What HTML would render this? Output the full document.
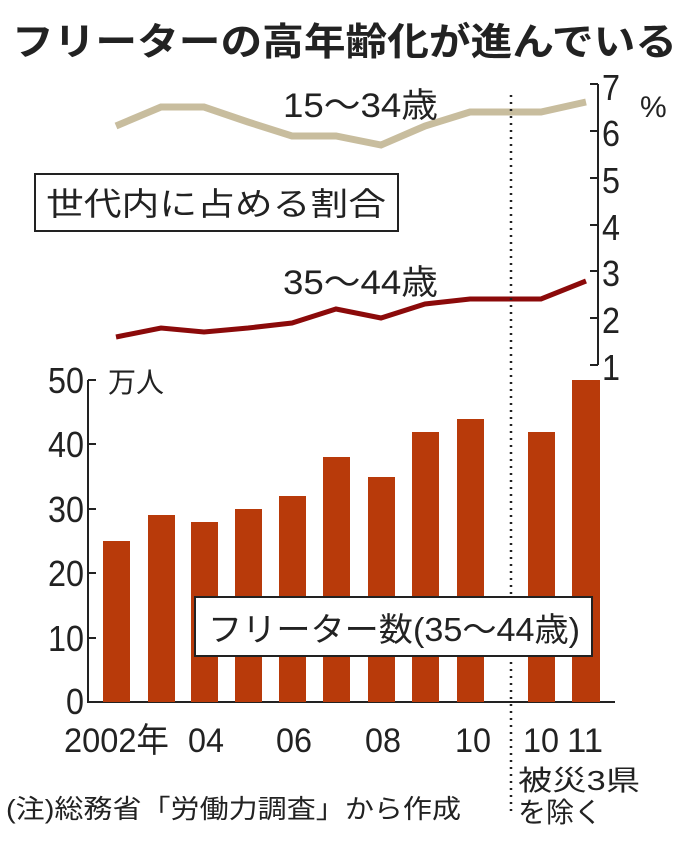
<!DOCTYPE html>
<html><head><meta charset="utf-8"><style>
body{margin:0;background:#fff}
svg text{font-family:"Liberation Sans","Noto Sans CJK JP",sans-serif;fill:#222}
</style></head><body>
<svg width="698" height="836" viewBox="0 0 698 836" xmlns="http://www.w3.org/2000/svg">
<text x="12" y="55" font-size="38" font-weight="bold" textLength="665" lengthAdjust="spacingAndGlyphs">フリーターの高年齢化が進んでいる</text>
<g stroke="#222" stroke-width="2" fill="none">
<path d="M598 84 V365"/>
<path d="M590 84H598M590 131H598M590 178H598M590 225H598M590 271H598M590 318H598M590 365H598"/>
</g>
<g font-size="36">
<text x="602" y="100" textLength="18" lengthAdjust="spacingAndGlyphs">7</text><text x="602" y="146" textLength="18" lengthAdjust="spacingAndGlyphs">6</text><text x="602" y="193" textLength="18" lengthAdjust="spacingAndGlyphs">5</text><text x="602" y="240" textLength="18" lengthAdjust="spacingAndGlyphs">4</text><text x="602" y="286" textLength="18" lengthAdjust="spacingAndGlyphs">3</text><text x="602" y="333" textLength="18" lengthAdjust="spacingAndGlyphs">2</text><text x="602" y="380" textLength="18" lengthAdjust="spacingAndGlyphs">1</text>
</g>
<text x="640" y="117" font-size="30">%</text>
<polyline fill="none" stroke="#c8bd9e" stroke-width="7" points="116,126 161,107 204,107 248,122 292,136 336,136 381,145 425,126 470,112 541,112 586,102"/>
<polyline fill="none" stroke="#8b0a0a" stroke-width="5" points="116,337 161,328 204,332 248,328 292,323 336,309 381,318 425,304 470,299 541,299 586,281"/>
<text x="283" y="117" font-size="34" textLength="155" lengthAdjust="spacingAndGlyphs">15～34歳</text>
<text x="283" y="294" font-size="34" textLength="155" lengthAdjust="spacingAndGlyphs">35～44歳</text>
<rect x="35" y="174" width="363" height="57" fill="#fff" stroke="#222" stroke-width="2"/>
<text x="46" y="215" font-size="32" textLength="340" lengthAdjust="spacingAndGlyphs">世代内に占める割合</text>
<g stroke="#222" stroke-width="2" fill="none">
<path d="M88 380 V702 H615"/>
<path d="M88 380H96M88 444H96M88 509H96M88 573H96M88 638H96"/>
</g>
<g font-size="36" text-anchor="end">
<text x="84" y="393" textLength="36" lengthAdjust="spacingAndGlyphs">50</text><text x="84" y="457" textLength="36" lengthAdjust="spacingAndGlyphs">40</text><text x="84" y="522" textLength="36" lengthAdjust="spacingAndGlyphs">30</text><text x="84" y="586" textLength="36" lengthAdjust="spacingAndGlyphs">20</text><text x="84" y="651" textLength="36" lengthAdjust="spacingAndGlyphs">10</text><text x="84" y="714" textLength="18" lengthAdjust="spacingAndGlyphs">0</text>
</g>
<text x="108" y="392" font-size="28">万人</text>
<g fill="#b83a0a">
<rect x="103" y="541" width="27" height="161"/>
<rect x="148" y="515" width="27" height="187"/>
<rect x="191" y="522" width="27" height="180"/>
<rect x="235" y="509" width="27" height="193"/>
<rect x="279" y="496" width="27" height="206"/>
<rect x="323" y="457" width="27" height="245"/>
<rect x="368" y="477" width="27" height="225"/>
<rect x="412" y="432" width="27" height="270"/>
<rect x="457" y="419" width="27" height="283"/>
<rect x="528" y="432" width="27" height="270"/>
<rect x="572" y="380" width="28" height="322"/>
</g>
<line x1="511" y1="95" x2="511" y2="812" stroke="#222" stroke-width="2.5" stroke-dasharray="2,5"/>
<rect x="195" y="597" width="397" height="59" fill="#fff" stroke="#222" stroke-width="2"/>
<text x="208" y="641" font-size="33" textLength="372" lengthAdjust="spacingAndGlyphs">フリーター数(35～44歳)</text>
<g font-size="34">
<text x="64" y="752" textLength="105" lengthAdjust="spacingAndGlyphs">2002年</text><text x="188" y="752" textLength="36" lengthAdjust="spacingAndGlyphs">04</text><text x="276" y="752" textLength="36" lengthAdjust="spacingAndGlyphs">06</text><text x="365" y="752" textLength="36" lengthAdjust="spacingAndGlyphs">08</text><text x="455" y="752" textLength="36" lengthAdjust="spacingAndGlyphs">10</text><text x="523" y="752" textLength="36" lengthAdjust="spacingAndGlyphs">10</text><text x="567" y="752" textLength="36" lengthAdjust="spacingAndGlyphs">11</text>
</g>
<text x="518" y="790" font-size="28" textLength="122" lengthAdjust="spacingAndGlyphs">被災3県</text>
<text x="518" y="822" font-size="28">を除く</text>
<text x="6" y="818" font-size="26" textLength="455" lengthAdjust="spacingAndGlyphs">(注)総務省「労働力調査」から作成</text>
</svg>
</body></html>
